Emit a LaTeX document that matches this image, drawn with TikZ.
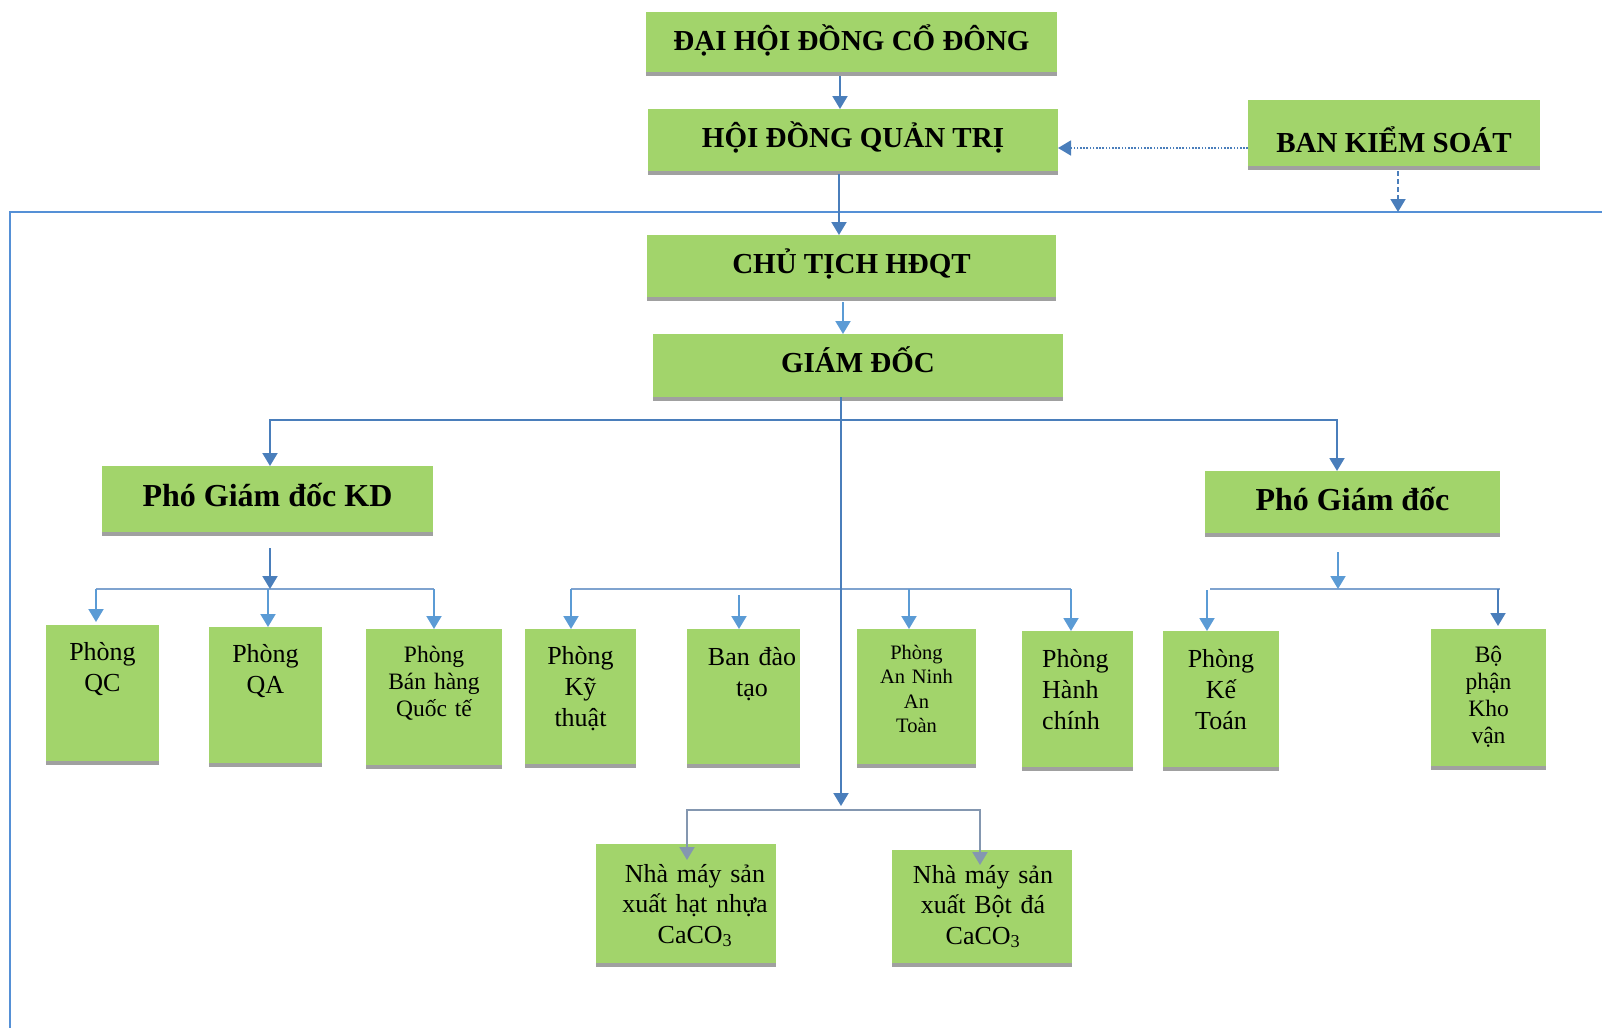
\documentclass[tikz,border=0pt]{standalone}
\usepackage{fontspec}
\setmainfont{Liberation Serif}
\usetikzlibrary{arrows.meta,shadows,calc}
\definecolor{gfill}{HTML}{A2D46B}
\definecolor{shgray}{HTML}{A0A0A0}
\definecolor{dblue}{HTML}{4A7EBB}
\definecolor{lblue}{HTML}{5B9BD5}
\definecolor{fblue}{HTML}{5590D6}
\definecolor{hblue}{HTML}{7FA3CF}
\definecolor{gblue}{HTML}{8497B0}
\begin{document}
\begin{tikzpicture}[x=1pt,y=-1pt,
  gbox/.style={rectangle,fill=gfill,draw=none,inner sep=0pt,outer sep=0pt,
    general shadow={fill=shgray,shadow yshift=-4pt}},
  hb/.style={font=\bfseries\fontsize{29}{34}\selectfont,inner sep=0pt,anchor=base},
  hbb/.style={font=\bfseries\fontsize{32}{38}\selectfont,inner sep=0pt,anchor=base},
  tx/.style={align=center,inner sep=0pt,anchor=base},
  t26/.style={tx,font=\fontsize{26}{31}\selectfont},
  t23/.style={tx,font=\fontsize{23.5}{27}\selectfont},
  t20/.style={tx,font=\fontsize{20.5}{24.5}\selectfont},
  tip/.style={-{Triangle[width=15pt,length=13pt]}},
  darr/.style={draw=dblue,line width=2pt,tip},
  larr/.style={draw=lblue,line width=2pt,tip},
  garr/.style={draw=gblue,line width=2pt,tip},
  hline/.style={draw=hblue,line width=2pt},
  dotarr/.style={draw=dblue,line width=1.6pt,dash pattern=on 1.6pt off 1.6pt,tip},
  dasharr/.style={draw=dblue,line width=2pt,dash pattern=on 5pt off 3pt,tip},
  frame/.style={draw=fblue,line width=2.6pt}
]
\useasboundingbox (0,0) rectangle (1602,1028);
% frame
\coordinate (fr0) at (1602,212);
\coordinate (fr1) at (10,212);
\coordinate (fr2) at (10,1028);
\draw[frame] (fr0) -- (fr1) -- (fr2);

% top boxes
\node[gbox,minimum width=411pt,minimum height=60pt] (dhcd) at (851.5,42) {};
\node[hb] (dhcdt) at (851.5,50) {ĐẠI HỘI ĐỒNG CỔ ĐÔNG};
\node[gbox,minimum width=410pt,minimum height=62pt] (hdqt) at (853,140) {};
\node[hb] (hdqtt) at (853,147) {HỘI ĐỒNG QUẢN TRỊ};
\node[gbox,minimum width=292pt,minimum height=66pt] (bks) at (1394,133) {};
\node[hb] (bkst) at (1394,152) {BAN KIỂM SOÁT};
\node[gbox,minimum width=409pt,minimum height=62pt] (ct) at (851.5,266) {};
\node[hb] (ctt) at (851.5,273) {CHỦ TỊCH HĐQT};
\node[gbox,minimum width=410pt,minimum height=63pt] (gd) at (858,365.5) {};
\node[hb] (gdt) at (858,372) {GIÁM ĐỐC};
\node[gbox,minimum width=331pt,minimum height=66pt] (kd) at (267.5,499) {};
\node[hbb] (kdt) at (267.5,506) {Phó Giám đốc KD};
\node[gbox,minimum width=295pt,minimum height=62pt] (pgd) at (1352.5,502) {};
\node[hbb] (pgdt) at (1352.5,510) {Phó Giám đốc};

% departments
\node[gbox,minimum width=113pt,minimum height=136pt] (qc) at (102.5,693) {};
\node[t26,text width=110pt] (qct) at (102.5,660) {Phòng\\QC};
\node[gbox,minimum width=113pt,minimum height=136pt] (qa) at (265.5,695) {};
\node[t26,text width=110pt] (qat) at (265.5,662) {Phòng\\QA};
\node[gbox,minimum width=136pt,minimum height=136pt] (bh) at (434,697) {};
\node[t23,text width=130pt] (bht) at (434,662) {Phòng\\Bán hàng\\Quốc tế};
\node[gbox,minimum width=111pt,minimum height=135pt] (kt) at (580.5,696.5) {};
\node[t26,text width=108pt] (ktt) at (580.5,664) {Phòng\\Kỹ\\thuật};
\node[gbox,minimum width=113pt,minimum height=135pt] (bdt) at (743.5,696.5) {};
\node[t26,text width=108pt] (bdtt) at (752,665) {Ban đào\\tạo};
\node[gbox,minimum width=119pt,minimum height=135pt] (an) at (916.5,696.5) {};
\node[t20,text width=114pt] (ant) at (916.5,659) {Phòng\\An Ninh\\An\\Toàn};
\node[gbox,minimum width=111pt,minimum height=136pt] (hc) at (1077.5,699) {};
\node[t26,align=left,text width=90pt,anchor=base west] (hct) at (1042,667) {Phòng\\Hành\\chính};
\node[gbox,minimum width=116pt,minimum height=136pt] (kto) at (1221,699) {};
\node[t26,text width=112pt] (ktot) at (1221,667) {Phòng\\Kế\\Toán};
\node[gbox,minimum width=115pt,minimum height=137pt] (bp) at (1488.5,697.5) {};
\node[t23,text width=110pt] (bpt) at (1488.5,662) {Bộ\\phận\\Kho\\vận};

% factories
\node[gbox,minimum width=180pt,minimum height=119pt] (nm1) at (686,903.5) {};
\node[tx,font=\fontsize{26}{30.5}\selectfont,text width=176pt] (nm1t) at (695,882) {Nhà máy sản\\xuất hạt nhựa\\CaCO\textsubscript{3}};
\node[gbox,minimum width=180pt,minimum height=113pt] (nm2) at (982,906.5) {};
\node[tx,font=\fontsize{26}{30.5}\selectfont,text width=176pt] (nm2t) at (983,883) {Nhà máy sản\\xuất Bột đá\\CaCO\textsubscript{3}};

% connectors, top
\coordinate (c1) at (840,76);
\draw[darr] (c1) -- (c1 |- hdqt.north);
\coordinate (c2) at (0,148);
\draw[dotarr] (bks.west |- c2) -- (hdqt.east |- c2);
\coordinate (c3) at (1398,171);
\draw[dasharr] (c3) -- (c3 |- fr1);
\coordinate (c4) at (839,0);
\draw[darr] ($(hdqt.south -| c4)+(0,3)$) -- (ct.north -| c4);
\coordinate (c5) at (843,0);
\draw[larr] ($(ct.south -| c5)+(0,5)$) -- (gd.north -| c5);

% director bus
\coordinate (b1) at (0,420);
\coordinate (mx) at (841,0);
\coordinate (kx) at (270,0);
\coordinate (px) at (1337,0);
\coordinate (nj) at (0,806);
\draw[darr] (mx |- b1) -- (kx |- b1) -- (kx |- kd.north);
\draw[darr] (mx |- b1) -- (px |- b1) -- (px |- pgd.north);

% KD group
\coordinate (kj) at (270,589);
\coordinate (q1) at (96,589);
\coordinate (q2) at (268,589);
\coordinate (q3) at (434,589);
\draw[hline] (q1) -- (q3);
\draw[larr] (q1) -- ($(q1 |- qc.north)+(0,-3)$);
\draw[larr] (q2) -- (q2 |- qa.north);
\draw[larr] (q3) -- (q3 |- bh.north);
\draw[darr] ($(kx |- kd.south)+(0,16)$) -- (kj);

% middle group
\coordinate (m1) at (571,589);
\coordinate (m2) at (739,595);
\coordinate (m3) at (909,589);
\coordinate (m4) at (1071,589);
\draw[hline] (m1) -- (m4);
\draw[larr] (m1) -- (m1 |- kt.north);
\draw[larr] (m2) -- (m2 |- bdt.north);
\draw[larr] (m3) -- (m3 |- an.north);
\draw[larr] (m4) -- (m4 |- hc.north);

% central line
\draw[darr] (gd.south -| mx) -- (mx |- nj);

% right group
\coordinate (pj) at (1338,589);
\coordinate (r0) at (1210,589);
\coordinate (r1) at (1207,590);
\coordinate (r2) at (1498,589);
\coordinate (r3) at (1500,589);
\draw[hline] (r0) -- (r3);
\draw[larr] ($(pj |- pgd.south)+(0,19)$) -- (pj);
\draw[larr] (r1) -- (r1 |- kto.north);
\draw[darr] (r2) -- ($(r2 |- bp.north)+(0,-3)$);

% factories
\coordinate (n1) at (687,810);
\coordinate (n2) at (980,810);
\draw[garr] (n2) -- (n1) -- ($(n1 |- nm1.north)+(0,16)$);
\draw[garr] (n1) -- (n2) -- ($(n2 |- nm2.north)+(0,15)$);
\end{tikzpicture}
\end{document}
